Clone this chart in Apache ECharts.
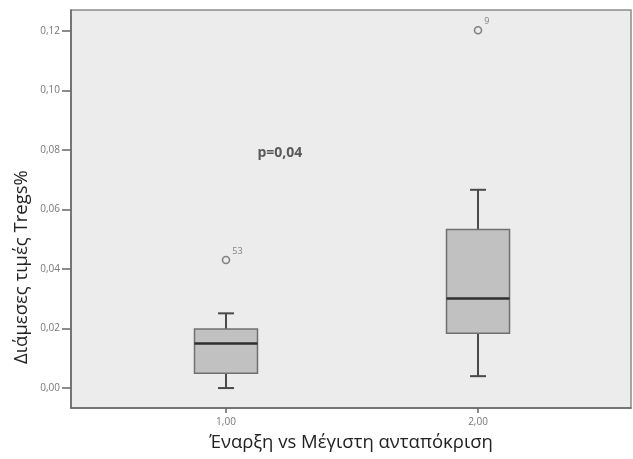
<!DOCTYPE html>
<html>
<head>
<meta charset="utf-8">
<script src="https://cdn.jsdelivr.net/npm/echarts@6/dist/echarts.min.js"></script>
<style>
  html, body { margin: 0; padding: 0; background: #fff; }
  #chart { width: 633px; height: 459px; }
</style>
</head>
<body>
<div id="chart"></div>
<script>
// group positions on the x axis (1,00 and 2,00)
var groups = [1, 2];
var whiskerLow = [0.0, 0.0040];
var q1 = [0.0050, 0.0184];
var medians = [0.0150, 0.0301];
var q3 = [0.0198, 0.0533];
var whiskerHigh = [0.0251, 0.0666];
// outliers: group, value, case number
var outlierGroup = [1, 2];
var outlierValue = [0.0430, 0.1202];
var outlierCase = ['53', '9'];
var yTicks = [0, 0.02, 0.04, 0.06, 0.08, 0.10, 0.12];

var boxData = groups.map(function(g, i) {
    return [g, whiskerLow[i], q1[i], medians[i], q3[i], whiskerHigh[i]];
});
var outlierData = outlierGroup.map(function(g, i) {
    return { value: [g, outlierValue[i]], name: outlierCase[i] };
});

function fmt(v) {
    return v.toFixed(2).replace('.', ',');
}

var chart = echarts.init(document.getElementById('chart'));

chart.setOption({
    animation: false,
    grid: {
        left: 71, top: 10, right: 2, bottom: 51,
        outerBoundsMode: 'none',
        containLabel: false,
        show: true,
        backgroundColor: '#ececec',
        borderColor: '#8c8c8c',
        borderWidth: 1.5
    },
    graphic: [{
        type: 'text',
        x: 22,
        y: 267,
        rotation: Math.PI / 2,
        style: {
            text: 'Διάμεσες τιμές Tregs%',
            fontFamily: 'Open Sans', fontSize: 18.5, fill: '#222',
            align: 'center', verticalAlign: 'middle'
        }
    }],
    xAxis: {
        type: 'value',
        min: 0.385,
        max: 2.607,
        name: 'Έναρξη vs Μέγιστη ανταπόκριση',
        nameLocation: 'middle',
        nameGap: 25,
        nameTextStyle: { fontFamily: 'Open Sans', fontSize: 18.5, color: '#222' },
        axisLine: { onZero: false, lineStyle: { color: '#666', width: 1.5 } },
        axisTick: { length: 5, lineStyle: { color: '#666', width: 1.5 }, customValues: groups },
        axisLabel: {
            customValues: groups,
            formatter: fmt,
            fontFamily: 'Open Sans', fontSize: 10, color: '#777', margin: 9
        },
        splitLine: { show: false }
    },
    yAxis: {
        type: 'value',
        min: -0.0067,
        max: 0.127,
        axisLine: { show: true, onZero: false, lineStyle: { color: '#666', width: 1.5 } },
        axisTick: { show: true, length: 9, lineStyle: { color: '#666', width: 1.5 }, customValues: yTicks },
        axisLabel: {
            customValues: yTicks,
            formatter: fmt,
            fontFamily: 'Open Sans', fontSize: 10, color: '#777', margin: 11
        },
        splitLine: { show: false }
    },
    series: [
        {
            type: 'custom',
            data: boxData,
            renderItem: function(params, api) {
                var x = api.value(0);
                var pLow = api.coord([x, api.value(1)]);
                var pQ1 = api.coord([x, api.value(2)]);
                var pMed = api.coord([x, api.value(3)]);
                var pQ3 = api.coord([x, api.value(4)]);
                var pHigh = api.coord([x, api.value(5)]);
                var half = 31.5;
                var cap = 8;
                var cx = pMed[0];
                var whisker = { stroke: '#4a4a4a', lineWidth: 2 };
                return {
                    type: 'group',
                    children: [
                        { type: 'line', shape: { x1: cx, y1: pLow[1], x2: cx, y2: pQ1[1] }, style: whisker },
                        { type: 'line', shape: { x1: cx, y1: pQ3[1], x2: cx, y2: pHigh[1] }, style: whisker },
                        { type: 'line', shape: { x1: cx - cap, y1: pLow[1], x2: cx + cap, y2: pLow[1] }, style: whisker },
                        { type: 'line', shape: { x1: cx - cap, y1: pHigh[1], x2: cx + cap, y2: pHigh[1] }, style: whisker },
                        {
                            type: 'rect',
                            shape: { x: cx - half, y: pQ3[1], width: half * 2, height: pQ1[1] - pQ3[1] },
                            style: { fill: '#c1c1c1', stroke: '#707070', lineWidth: 1.5 }
                        },
                        { type: 'line', shape: { x1: cx - half, y1: pMed[1], x2: cx + half, y2: pMed[1] }, style: { stroke: '#2e2e2e', lineWidth: 2.5 } }
                    ]
                };
            }
        },
        {
            type: 'scatter',
            data: outlierData,
            symbol: 'circle',
            symbolSize: 7,
            itemStyle: { color: '#ececec', borderColor: '#666', borderWidth: 1.6 },
            label: {
                show: true,
                position: 'right',
                distance: 2,
                offset: [0, -9],
                formatter: '{b}',
                fontFamily: 'Open Sans', fontSize: 9, color: '#666'
            }
        },
        {
            type: 'scatter',
            data: [[1.214, 0.0790]],
            symbolSize: 0,
            silent: true,
            label: {
                show: true,
                position: 'inside',
                formatter: 'p=0,04',
                fontFamily: 'Open Sans', fontSize: 14, fontWeight: 'bold', color: '#333'
            }
        }
    ]
});
</script>
</body>
</html>
